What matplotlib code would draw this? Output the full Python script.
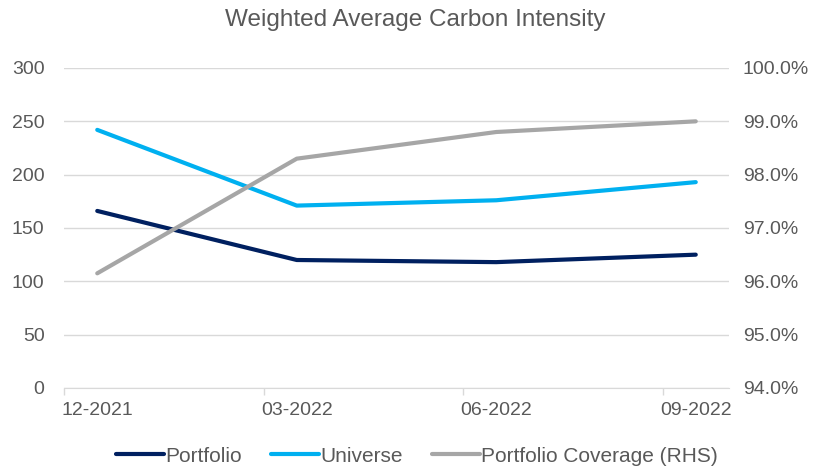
import matplotlib
matplotlib.use("Agg")
import matplotlib.pyplot as plt
from matplotlib.ticker import FuncFormatter, FixedLocator

plt.rcParams["font.family"] = ["Liberation Sans", "DejaVu Sans"]

# quarter-end dates, placed on a monthly axis (Dec-2021 .. Sep-2022)
labels = ["12-2021", "03-2022", "06-2022", "09-2022"]
month_idx = [0, 3, 6, 9]

portfolio = [166, 120, 118, 125]
universe = [242, 171, 176, 193]
coverage = [96.15, 98.3, 98.8, 99.0]  # % (RHS)

NAVY = "#002060"
CYAN = "#00B0F0"
GREY = "#A6A6A6"
TXT = "#595959"

fig = plt.figure(figsize=(8.17, 4.66), dpi=100)
ax = fig.add_axes([64 / 817, 1 - 388 / 466, 665 / 817, 320 / 466])
ax2 = ax.twinx()

l1, = ax.plot(month_idx, portfolio, color=NAVY, lw=3, solid_capstyle="round", label="Portfolio")
l2, = ax.plot(month_idx, universe, color=CYAN, lw=3, solid_capstyle="round", label="Universe")
l3, = ax2.plot(month_idx, coverage, color=GREY, lw=3, solid_capstyle="round",
               label="Portfolio Coverage (RHS)")

ax.set_xlim(-0.5, 9.5)
ax.set_ylim(0, 300)
ax.set_yticks(range(0, 301, 50))
ax2.set_ylim(94, 100)
ax2.set_yticks(range(94, 101))
ax2.yaxis.set_major_formatter(FuncFormatter(lambda v, p: f"{v:.1f}%"))

ax.set_xticks(month_idx)
ax.set_xticklabels(labels)
ax.xaxis.set_minor_locator(FixedLocator([-0.5, 2.5, 5.5, 8.5]))
ax.tick_params(axis="x", which="major", length=0, pad=10, labelsize=14, labelcolor=TXT)
ax.tick_params(axis="x", which="minor", length=5, color="#D9D9D9", width=1)
ax.tick_params(axis="y", length=0, pad=14, labelsize=14, labelcolor=TXT)
ax2.tick_params(axis="y", length=0, pad=10, labelsize=14, labelcolor=TXT)

ax.grid(axis="y", color="#D9D9D9", lw=1)
ax.set_axisbelow(True)
for a in (ax, ax2):
    for s in ("top", "left", "right"):
        a.spines[s].set_visible(False)
    a.spines["bottom"].set_color("#D9D9D9")
ax2.spines["bottom"].set_visible(False)

fig.suptitle("Weighted Average Carbon Intensity", x=415 / 817, y=1 - 9 / 466,
             va="top", fontsize=17.5, color=TXT)

fig.legend(handles=[l1, l2, l3], loc="center", bbox_to_anchor=(417 / 817, 1 - 456 / 466),
           ncol=3, frameon=False, fontsize=15, labelcolor=TXT, handlelength=2.3,
           handletextpad=0.05, columnspacing=1.4)

fig.savefig("out.png", dpi=100)
